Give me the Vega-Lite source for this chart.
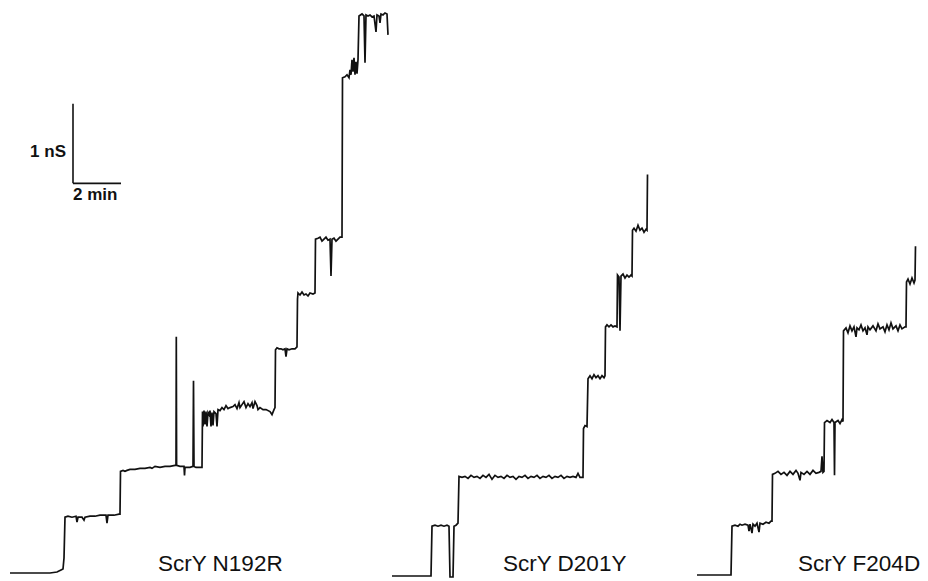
{
  "$schema": "https://vega.github.io/schema/vega-lite/v6.json",
  "width": 928,
  "height": 581,
  "autosize": {"type": "fit", "contains": "padding"},
  "padding": 0,
  "background": "white",
  "config": {"view": {"stroke": null}},
  "datasets": {
    "traces": [
      {"trace": "N192R", "t": 25, "g": 0.075},
      {"trace": "N192R", "t": 75, "g": 0.075},
      {"trace": "N192R", "t": 125, "g": 0.075},
      {"trace": "N192R", "t": 142.5, "g": 0.0875},
      {"trace": "N192R", "t": 152.5, "g": 0.1125},
      {"trace": "N192R", "t": 157.5, "g": 0.125},
      {"trace": "N192R", "t": 160, "g": 0.2625},
      {"trace": "N192R", "t": 162.5, "g": 0.775},
      {"trace": "N192R", "t": 170, "g": 0.7875},
      {"trace": "N192R", "t": 180, "g": 0.775},
      {"trace": "N192R", "t": 190, "g": 0.7875},
      {"trace": "N192R", "t": 192.5, "g": 0.7125},
      {"trace": "N192R", "t": 195, "g": 0.775},
      {"trace": "N192R", "t": 205, "g": 0.775},
      {"trace": "N192R", "t": 210, "g": 0.7375},
      {"trace": "N192R", "t": 212.5, "g": 0.775},
      {"trace": "N192R", "t": 225, "g": 0.7875},
      {"trace": "N192R", "t": 237.5, "g": 0.7875},
      {"trace": "N192R", "t": 250, "g": 0.8},
      {"trace": "N192R", "t": 265, "g": 0.8},
      {"trace": "N192R", "t": 267.5, "g": 0.7},
      {"trace": "N192R", "t": 270, "g": 0.8},
      {"trace": "N192R", "t": 285, "g": 0.8},
      {"trace": "N192R", "t": 297.5, "g": 0.8125},
      {"trace": "N192R", "t": 300, "g": 0.8125},
      {"trace": "N192R", "t": 301.25, "g": 1.35},
      {"trace": "N192R", "t": 307.5, "g": 1.3625},
      {"trace": "N192R", "t": 312.5, "g": 1.35},
      {"trace": "N192R", "t": 317.5, "g": 1.3625},
      {"trace": "N192R", "t": 325, "g": 1.375},
      {"trace": "N192R", "t": 337.5, "g": 1.375},
      {"trace": "N192R", "t": 350, "g": 1.3875},
      {"trace": "N192R", "t": 362.5, "g": 1.3875},
      {"trace": "N192R", "t": 375, "g": 1.4},
      {"trace": "N192R", "t": 380, "g": 1.3875},
      {"trace": "N192R", "t": 387.5, "g": 1.4125},
      {"trace": "N192R", "t": 400, "g": 1.4},
      {"trace": "N192R", "t": 412.5, "g": 1.4125},
      {"trace": "N192R", "t": 425, "g": 1.4125},
      {"trace": "N192R", "t": 437.5, "g": 1.425},
      {"trace": "N192R", "t": 440, "g": 1.425},
      {"trace": "N192R", "t": 440.75, "g": 3.0375},
      {"trace": "N192R", "t": 441.5, "g": 1.425},
      {"trace": "N192R", "t": 450, "g": 1.4125},
      {"trace": "N192R", "t": 460, "g": 1.4125},
      {"trace": "N192R", "t": 461.25, "g": 1.3},
      {"trace": "N192R", "t": 462.5, "g": 1.4},
      {"trace": "N192R", "t": 475, "g": 1.4},
      {"trace": "N192R", "t": 482.5, "g": 1.4125},
      {"trace": "N192R", "t": 483.75, "g": 2.4875},
      {"trace": "N192R", "t": 485, "g": 1.4125},
      {"trace": "N192R", "t": 490, "g": 1.4},
      {"trace": "N192R", "t": 500, "g": 1.4},
      {"trace": "N192R", "t": 505, "g": 1.4},
      {"trace": "N192R", "t": 506.25, "g": 2.1},
      {"trace": "N192R", "t": 507.5, "g": 1.9125},
      {"trace": "N192R", "t": 510, "g": 2.1125},
      {"trace": "N192R", "t": 512.5, "g": 1.9375},
      {"trace": "N192R", "t": 515, "g": 2.1},
      {"trace": "N192R", "t": 517.5, "g": 1.9125},
      {"trace": "N192R", "t": 520, "g": 2.0875},
      {"trace": "N192R", "t": 522.5, "g": 2.0625},
      {"trace": "N192R", "t": 525, "g": 2.1125},
      {"trace": "N192R", "t": 527.5, "g": 1.9125},
      {"trace": "N192R", "t": 530, "g": 2.0875},
      {"trace": "N192R", "t": 532.5, "g": 1.925},
      {"trace": "N192R", "t": 535, "g": 2.1},
      {"trace": "N192R", "t": 540, "g": 2.075},
      {"trace": "N192R", "t": 542.5, "g": 1.9125},
      {"trace": "N192R", "t": 545, "g": 2.125},
      {"trace": "N192R", "t": 550, "g": 2.1125},
      {"trace": "N192R", "t": 555, "g": 2.15},
      {"trace": "N192R", "t": 560, "g": 2.125},
      {"trace": "N192R", "t": 565, "g": 2.175},
      {"trace": "N192R", "t": 570, "g": 2.1375},
      {"trace": "N192R", "t": 575, "g": 2.15},
      {"trace": "N192R", "t": 582.5, "g": 2.1625},
      {"trace": "N192R", "t": 587.5, "g": 2.1875},
      {"trace": "N192R", "t": 592.5, "g": 2.1375},
      {"trace": "N192R", "t": 597.5, "g": 2.2125},
      {"trace": "N192R", "t": 600, "g": 2.15},
      {"trace": "N192R", "t": 605, "g": 2.1875},
      {"trace": "N192R", "t": 610, "g": 2.225},
      {"trace": "N192R", "t": 615, "g": 2.15},
      {"trace": "N192R", "t": 620, "g": 2.2},
      {"trace": "N192R", "t": 625, "g": 2.1625},
      {"trace": "N192R", "t": 630, "g": 2.2125},
      {"trace": "N192R", "t": 632.5, "g": 2.1375},
      {"trace": "N192R", "t": 637.5, "g": 2.225},
      {"trace": "N192R", "t": 642.5, "g": 2.175},
      {"trace": "N192R", "t": 645, "g": 2.125},
      {"trace": "N192R", "t": 650, "g": 2.15},
      {"trace": "N192R", "t": 657.5, "g": 2.125},
      {"trace": "N192R", "t": 665, "g": 2.125},
      {"trace": "N192R", "t": 675, "g": 2.1},
      {"trace": "N192R", "t": 680, "g": 2.0625},
      {"trace": "N192R", "t": 685, "g": 2.125},
      {"trace": "N192R", "t": 687.5, "g": 2.15},
      {"trace": "N192R", "t": 688.75, "g": 2.875},
      {"trace": "N192R", "t": 692.5, "g": 2.9},
      {"trace": "N192R", "t": 697.5, "g": 2.8875},
      {"trace": "N192R", "t": 702.5, "g": 2.8875},
      {"trace": "N192R", "t": 707.5, "g": 2.875},
      {"trace": "N192R", "t": 712.5, "g": 2.8875},
      {"trace": "N192R", "t": 715, "g": 2.7875},
      {"trace": "N192R", "t": 717.5, "g": 2.8875},
      {"trace": "N192R", "t": 722.5, "g": 2.875},
      {"trace": "N192R", "t": 730, "g": 2.8875},
      {"trace": "N192R", "t": 737.5, "g": 2.8875},
      {"trace": "N192R", "t": 742.5, "g": 2.9125},
      {"trace": "N192R", "t": 743.75, "g": 3.5125},
      {"trace": "N192R", "t": 745, "g": 3.5875},
      {"trace": "N192R", "t": 750, "g": 3.5625},
      {"trace": "N192R", "t": 755, "g": 3.6},
      {"trace": "N192R", "t": 760, "g": 3.5625},
      {"trace": "N192R", "t": 765, "g": 3.575},
      {"trace": "N192R", "t": 770, "g": 3.55},
      {"trace": "N192R", "t": 775, "g": 3.5875},
      {"trace": "N192R", "t": 782.5, "g": 3.575},
      {"trace": "N192R", "t": 787.5, "g": 3.5875},
      {"trace": "N192R", "t": 788.75, "g": 4.2625},
      {"trace": "N192R", "t": 795, "g": 4.275},
      {"trace": "N192R", "t": 800, "g": 4.2875},
      {"trace": "N192R", "t": 805, "g": 4.2375},
      {"trace": "N192R", "t": 810, "g": 4.2625},
      {"trace": "N192R", "t": 815, "g": 4.2875},
      {"trace": "N192R", "t": 820, "g": 4.25},
      {"trace": "N192R", "t": 825, "g": 4.2625},
      {"trace": "N192R", "t": 827.5, "g": 3.8},
      {"trace": "N192R", "t": 830, "g": 4.2625},
      {"trace": "N192R", "t": 835, "g": 4.275},
      {"trace": "N192R", "t": 840, "g": 4.2375},
      {"trace": "N192R", "t": 845, "g": 4.2625},
      {"trace": "N192R", "t": 850, "g": 4.2875},
      {"trace": "N192R", "t": 855, "g": 4.2875},
      {"trace": "N192R", "t": 856.25, "g": 6.2875},
      {"trace": "N192R", "t": 862.5, "g": 6.3},
      {"trace": "N192R", "t": 867.5, "g": 6.325},
      {"trace": "N192R", "t": 872.5, "g": 6.2875},
      {"trace": "N192R", "t": 875, "g": 6.3875},
      {"trace": "N192R", "t": 877.5, "g": 6.325},
      {"trace": "N192R", "t": 880, "g": 6.5125},
      {"trace": "N192R", "t": 882.5, "g": 6.3625},
      {"trace": "N192R", "t": 885, "g": 6.5375},
      {"trace": "N192R", "t": 887.5, "g": 6.325},
      {"trace": "N192R", "t": 890, "g": 6.4875},
      {"trace": "N192R", "t": 892.5, "g": 6.3375},
      {"trace": "N192R", "t": 895, "g": 6.5125},
      {"trace": "N192R", "t": 897.5, "g": 7.0625},
      {"trace": "N192R", "t": 905, "g": 7.0875},
      {"trace": "N192R", "t": 910, "g": 7.0625},
      {"trace": "N192R", "t": 912.5, "g": 6.475},
      {"trace": "N192R", "t": 915, "g": 7.075},
      {"trace": "N192R", "t": 920, "g": 7.0625},
      {"trace": "N192R", "t": 925, "g": 7.075},
      {"trace": "N192R", "t": 930, "g": 7.05},
      {"trace": "N192R", "t": 935, "g": 7.0625},
      {"trace": "N192R", "t": 940, "g": 6.8625},
      {"trace": "N192R", "t": 942.5, "g": 7.075},
      {"trace": "N192R", "t": 947.5, "g": 7.0625},
      {"trace": "N192R", "t": 950, "g": 6.975},
      {"trace": "N192R", "t": 952.5, "g": 7.0875},
      {"trace": "N192R", "t": 957.5, "g": 7.075},
      {"trace": "N192R", "t": 962.5, "g": 7.1},
      {"trace": "N192R", "t": 967.5, "g": 7.0875},
      {"trace": "N192R", "t": 970, "g": 6.825},

      {"trace": "D201Y", "t": 980, "g": 0.0375},
      {"trace": "D201Y", "t": 1025, "g": 0.0375},
      {"trace": "D201Y", "t": 1077.5, "g": 0.0375},
      {"trace": "D201Y", "t": 1080, "g": 0.6625},
      {"trace": "D201Y", "t": 1087.5, "g": 0.675},
      {"trace": "D201Y", "t": 1095, "g": 0.6625},
      {"trace": "D201Y", "t": 1102.5, "g": 0.675},
      {"trace": "D201Y", "t": 1110, "g": 0.6625},
      {"trace": "D201Y", "t": 1117.5, "g": 0.675},
      {"trace": "D201Y", "t": 1122.5, "g": 0.6625},
      {"trace": "D201Y", "t": 1125, "g": 0.025},
      {"trace": "D201Y", "t": 1132.5, "g": 0.025},
      {"trace": "D201Y", "t": 1135, "g": 0.6625},
      {"trace": "D201Y", "t": 1140, "g": 0.675},
      {"trace": "D201Y", "t": 1145, "g": 0.7},
      {"trace": "D201Y", "t": 1147.5, "g": 1.2875},
      {"trace": "D201Y", "t": 1155, "g": 1.275},
      {"trace": "D201Y", "t": 1162.5, "g": 1.2875},
      {"trace": "D201Y", "t": 1170, "g": 1.2625},
      {"trace": "D201Y", "t": 1177.5, "g": 1.3},
      {"trace": "D201Y", "t": 1185, "g": 1.275},
      {"trace": "D201Y", "t": 1192.5, "g": 1.2875},
      {"trace": "D201Y", "t": 1200, "g": 1.2625},
      {"trace": "D201Y", "t": 1207.5, "g": 1.3},
      {"trace": "D201Y", "t": 1215, "g": 1.275},
      {"trace": "D201Y", "t": 1222.5, "g": 1.3125},
      {"trace": "D201Y", "t": 1230, "g": 1.25},
      {"trace": "D201Y", "t": 1237.5, "g": 1.3},
      {"trace": "D201Y", "t": 1245, "g": 1.275},
      {"trace": "D201Y", "t": 1252.5, "g": 1.2875},
      {"trace": "D201Y", "t": 1260, "g": 1.2625},
      {"trace": "D201Y", "t": 1267.5, "g": 1.3},
      {"trace": "D201Y", "t": 1275, "g": 1.275},
      {"trace": "D201Y", "t": 1282.5, "g": 1.2875},
      {"trace": "D201Y", "t": 1290, "g": 1.25},
      {"trace": "D201Y", "t": 1297.5, "g": 1.2875},
      {"trace": "D201Y", "t": 1305, "g": 1.275},
      {"trace": "D201Y", "t": 1312.5, "g": 1.3},
      {"trace": "D201Y", "t": 1320, "g": 1.2625},
      {"trace": "D201Y", "t": 1327.5, "g": 1.2875},
      {"trace": "D201Y", "t": 1335, "g": 1.275},
      {"trace": "D201Y", "t": 1342.5, "g": 1.3},
      {"trace": "D201Y", "t": 1350, "g": 1.2625},
      {"trace": "D201Y", "t": 1357.5, "g": 1.2875},
      {"trace": "D201Y", "t": 1365, "g": 1.275},
      {"trace": "D201Y", "t": 1372.5, "g": 1.3},
      {"trace": "D201Y", "t": 1380, "g": 1.2625},
      {"trace": "D201Y", "t": 1387.5, "g": 1.2875},
      {"trace": "D201Y", "t": 1395, "g": 1.275},
      {"trace": "D201Y", "t": 1402.5, "g": 1.3},
      {"trace": "D201Y", "t": 1410, "g": 1.2625},
      {"trace": "D201Y", "t": 1417.5, "g": 1.2875},
      {"trace": "D201Y", "t": 1425, "g": 1.275},
      {"trace": "D201Y", "t": 1432.5, "g": 1.2875},
      {"trace": "D201Y", "t": 1440, "g": 1.275},
      {"trace": "D201Y", "t": 1445, "g": 1.325},
      {"trace": "D201Y", "t": 1450, "g": 1.275},
      {"trace": "D201Y", "t": 1457.5, "g": 1.275},
      {"trace": "D201Y", "t": 1458.75, "g": 1.8875},
      {"trace": "D201Y", "t": 1462.5, "g": 1.925},
      {"trace": "D201Y", "t": 1467.5, "g": 1.9125},
      {"trace": "D201Y", "t": 1470, "g": 2.5125},
      {"trace": "D201Y", "t": 1475, "g": 2.55},
      {"trace": "D201Y", "t": 1480, "g": 2.5125},
      {"trace": "D201Y", "t": 1485, "g": 2.5625},
      {"trace": "D201Y", "t": 1490, "g": 2.525},
      {"trace": "D201Y", "t": 1495, "g": 2.55},
      {"trace": "D201Y", "t": 1500, "g": 2.5125},
      {"trace": "D201Y", "t": 1505, "g": 2.55},
      {"trace": "D201Y", "t": 1510, "g": 2.525},
      {"trace": "D201Y", "t": 1512.5, "g": 2.55},
      {"trace": "D201Y", "t": 1513.75, "g": 3.1625},
      {"trace": "D201Y", "t": 1517.5, "g": 3.1875},
      {"trace": "D201Y", "t": 1522.5, "g": 3.1625},
      {"trace": "D201Y", "t": 1527.5, "g": 3.1875},
      {"trace": "D201Y", "t": 1532.5, "g": 3.1625},
      {"trace": "D201Y", "t": 1537.5, "g": 3.175},
      {"trace": "D201Y", "t": 1542.5, "g": 3.1625},
      {"trace": "D201Y", "t": 1543.75, "g": 3.8125},
      {"trace": "D201Y", "t": 1547.5, "g": 3.7875},
      {"trace": "D201Y", "t": 1550, "g": 3.1125},
      {"trace": "D201Y", "t": 1552.5, "g": 3.8},
      {"trace": "D201Y", "t": 1557.5, "g": 3.825},
      {"trace": "D201Y", "t": 1562.5, "g": 3.775},
      {"trace": "D201Y", "t": 1567.5, "g": 3.8125},
      {"trace": "D201Y", "t": 1572.5, "g": 3.7875},
      {"trace": "D201Y", "t": 1577.5, "g": 3.8125},
      {"trace": "D201Y", "t": 1580, "g": 3.8},
      {"trace": "D201Y", "t": 1581.25, "g": 4.375},
      {"trace": "D201Y", "t": 1585, "g": 4.4},
      {"trace": "D201Y", "t": 1590, "g": 4.3625},
      {"trace": "D201Y", "t": 1595, "g": 4.4375},
      {"trace": "D201Y", "t": 1600, "g": 4.375},
      {"trace": "D201Y", "t": 1605, "g": 4.4},
      {"trace": "D201Y", "t": 1610, "g": 4.35},
      {"trace": "D201Y", "t": 1615, "g": 4.3875},
      {"trace": "D201Y", "t": 1617.5, "g": 4.375},
      {"trace": "D201Y", "t": 1618.75, "g": 5.075},

      {"trace": "F204D", "t": 1742.5, "g": 0.05},
      {"trace": "F204D", "t": 1787.5, "g": 0.05},
      {"trace": "F204D", "t": 1827.5, "g": 0.05},
      {"trace": "F204D", "t": 1830, "g": 0.6625},
      {"trace": "F204D", "t": 1837.5, "g": 0.675},
      {"trace": "F204D", "t": 1845, "g": 0.6625},
      {"trace": "F204D", "t": 1850, "g": 0.6875},
      {"trace": "F204D", "t": 1855, "g": 0.675},
      {"trace": "F204D", "t": 1862.5, "g": 0.6875},
      {"trace": "F204D", "t": 1870, "g": 0.675},
      {"trace": "F204D", "t": 1872.5, "g": 0.6},
      {"trace": "F204D", "t": 1875, "g": 0.6875},
      {"trace": "F204D", "t": 1880, "g": 0.575},
      {"trace": "F204D", "t": 1882.5, "g": 0.6875},
      {"trace": "F204D", "t": 1887.5, "g": 0.6625},
      {"trace": "F204D", "t": 1892.5, "g": 0.7},
      {"trace": "F204D", "t": 1897.5, "g": 0.5875},
      {"trace": "F204D", "t": 1900, "g": 0.7},
      {"trace": "F204D", "t": 1907.5, "g": 0.6875},
      {"trace": "F204D", "t": 1915, "g": 0.7125},
      {"trace": "F204D", "t": 1922.5, "g": 0.7},
      {"trace": "F204D", "t": 1927.5, "g": 0.725},
      {"trace": "F204D", "t": 1930, "g": 0.725},
      {"trace": "F204D", "t": 1931.25, "g": 1.3125},
      {"trace": "F204D", "t": 1937.5, "g": 1.325},
      {"trace": "F204D", "t": 1945, "g": 1.35},
      {"trace": "F204D", "t": 1952.5, "g": 1.3125},
      {"trace": "F204D", "t": 1960, "g": 1.3375},
      {"trace": "F204D", "t": 1967.5, "g": 1.3},
      {"trace": "F204D", "t": 1975, "g": 1.35},
      {"trace": "F204D", "t": 1982.5, "g": 1.3125},
      {"trace": "F204D", "t": 1990, "g": 1.3625},
      {"trace": "F204D", "t": 1995, "g": 1.325},
      {"trace": "F204D", "t": 2000, "g": 1.2375},
      {"trace": "F204D", "t": 2002.5, "g": 1.3375},
      {"trace": "F204D", "t": 2010, "g": 1.3125},
      {"trace": "F204D", "t": 2017.5, "g": 1.35},
      {"trace": "F204D", "t": 2025, "g": 1.3125},
      {"trace": "F204D", "t": 2032.5, "g": 1.3625},
      {"trace": "F204D", "t": 2040, "g": 1.325},
      {"trace": "F204D", "t": 2047.5, "g": 1.3375},
      {"trace": "F204D", "t": 2052.5, "g": 1.35},
      {"trace": "F204D", "t": 2055, "g": 1.5375},
      {"trace": "F204D", "t": 2057.5, "g": 1.3375},
      {"trace": "F204D", "t": 2060, "g": 1.35},
      {"trace": "F204D", "t": 2061.25, "g": 1.9625},
      {"trace": "F204D", "t": 2067.5, "g": 1.9875},
      {"trace": "F204D", "t": 2075, "g": 1.9625},
      {"trace": "F204D", "t": 2080, "g": 2.0},
      {"trace": "F204D", "t": 2085, "g": 1.9625},
      {"trace": "F204D", "t": 2086.25, "g": 1.3},
      {"trace": "F204D", "t": 2087.5, "g": 1.9625},
      {"trace": "F204D", "t": 2095, "g": 1.9875},
      {"trace": "F204D", "t": 2100, "g": 1.95},
      {"trace": "F204D", "t": 2105, "g": 2.0},
      {"trace": "F204D", "t": 2107.5, "g": 1.975},
      {"trace": "F204D", "t": 2108.75, "g": 3.1125},
      {"trace": "F204D", "t": 2115, "g": 3.15},
      {"trace": "F204D", "t": 2120, "g": 3.0875},
      {"trace": "F204D", "t": 2125, "g": 3.175},
      {"trace": "F204D", "t": 2130, "g": 3.1125},
      {"trace": "F204D", "t": 2135, "g": 3.1625},
      {"trace": "F204D", "t": 2140, "g": 3.0375},
      {"trace": "F204D", "t": 2142.5, "g": 3.15},
      {"trace": "F204D", "t": 2147.5, "g": 3.125},
      {"trace": "F204D", "t": 2152.5, "g": 3.1875},
      {"trace": "F204D", "t": 2157.5, "g": 3.1125},
      {"trace": "F204D", "t": 2162.5, "g": 3.15},
      {"trace": "F204D", "t": 2167.5, "g": 3.0625},
      {"trace": "F204D", "t": 2170, "g": 3.1625},
      {"trace": "F204D", "t": 2175, "g": 3.125},
      {"trace": "F204D", "t": 2182.5, "g": 3.175},
      {"trace": "F204D", "t": 2190, "g": 3.1125},
      {"trace": "F204D", "t": 2195, "g": 3.2},
      {"trace": "F204D", "t": 2200, "g": 3.1375},
      {"trace": "F204D", "t": 2207.5, "g": 3.1625},
      {"trace": "F204D", "t": 2212.5, "g": 3.1},
      {"trace": "F204D", "t": 2217.5, "g": 3.1875},
      {"trace": "F204D", "t": 2222.5, "g": 3.125},
      {"trace": "F204D", "t": 2227.5, "g": 3.2125},
      {"trace": "F204D", "t": 2232.5, "g": 3.1375},
      {"trace": "F204D", "t": 2240, "g": 3.175},
      {"trace": "F204D", "t": 2245, "g": 3.1125},
      {"trace": "F204D", "t": 2250, "g": 3.1875},
      {"trace": "F204D", "t": 2255, "g": 3.1375},
      {"trace": "F204D", "t": 2262.5, "g": 3.1625},
      {"trace": "F204D", "t": 2265, "g": 3.1625},
      {"trace": "F204D", "t": 2266.25, "g": 3.725},
      {"trace": "F204D", "t": 2270, "g": 3.7625},
      {"trace": "F204D", "t": 2275, "g": 3.7},
      {"trace": "F204D", "t": 2280, "g": 3.775},
      {"trace": "F204D", "t": 2285, "g": 3.7125},
      {"trace": "F204D", "t": 2287.5, "g": 3.75},
      {"trace": "F204D", "t": 2288.75, "g": 4.175}
    ],
    "scalebar": [
      {"t": 182.5, "t2": 182.5, "g": 4.9625, "g2": 5.9625},
      {"t": 182.5, "t2": 302.5, "g": 4.9625, "g2": 4.9625}
    ],
    "scalelabels": [
      {"label": "1 nS", "t": 165, "g": 5.2875, "align": "right"},
      {"label": "2 min", "t": 182.5, "g": 4.75, "align": "left"}
    ],
    "names": [
      {"label": "ScrY N192R", "t": 395, "g": 0.1},
      {"label": "ScrY D201Y", "t": 1257.5, "g": 0.1},
      {"label": "ScrY F204D", "t": 1995, "g": 0.1}
    ]
  },
  "layer": [
    {
      "data": {"name": "traces"},
      "mark": {"type": "line", "color": "#111111", "strokeWidth": 1.7, "interpolate": "linear", "strokeJoin": "miter"},
      "encoding": {
        "x": {"field": "t", "type": "quantitative", "scale": {"domain": [0, 2320], "nice": false, "zero": false}, "axis": null},
        "y": {"field": "g", "type": "quantitative", "scale": {"domain": [0, 7.2625], "nice": false, "zero": false}, "axis": null},
        "detail": {"field": "trace"},
        "order": {"field": "t", "type": "quantitative"}
      }
    },
    {
      "data": {"name": "scalebar"},
      "mark": {"type": "rule", "color": "#111111", "strokeWidth": 1.6},
      "encoding": {
        "x": {"field": "t", "type": "quantitative"},
        "x2": {"field": "t2"},
        "y": {"field": "g", "type": "quantitative"},
        "y2": {"field": "g2"}
      }
    },
    {
      "data": {"name": "scalelabels"},
      "transform": [{"filter": "datum.align === 'right'"}],
      "mark": {"type": "text", "align": "right", "baseline": "alphabetic", "font": "Liberation Sans", "fontWeight": "bold", "fontSize": 17, "color": "#111111"},
      "encoding": {
        "x": {"field": "t", "type": "quantitative"},
        "y": {"field": "g", "type": "quantitative"},
        "text": {"field": "label"}
      }
    },
    {
      "data": {"name": "scalelabels"},
      "transform": [{"filter": "datum.align === 'left'"}],
      "mark": {"type": "text", "align": "left", "baseline": "alphabetic", "font": "Liberation Sans", "fontWeight": "bold", "fontSize": 17, "color": "#111111"},
      "encoding": {
        "x": {"field": "t", "type": "quantitative"},
        "y": {"field": "g", "type": "quantitative"},
        "text": {"field": "label"}
      }
    },
    {
      "data": {"name": "names"},
      "mark": {"type": "text", "align": "left", "baseline": "alphabetic", "font": "Liberation Sans", "fontSize": 22.5, "color": "#111111"},
      "encoding": {
        "x": {"field": "t", "type": "quantitative"},
        "y": {"field": "g", "type": "quantitative"},
        "text": {"field": "label"}
      }
    }
  ]
}
